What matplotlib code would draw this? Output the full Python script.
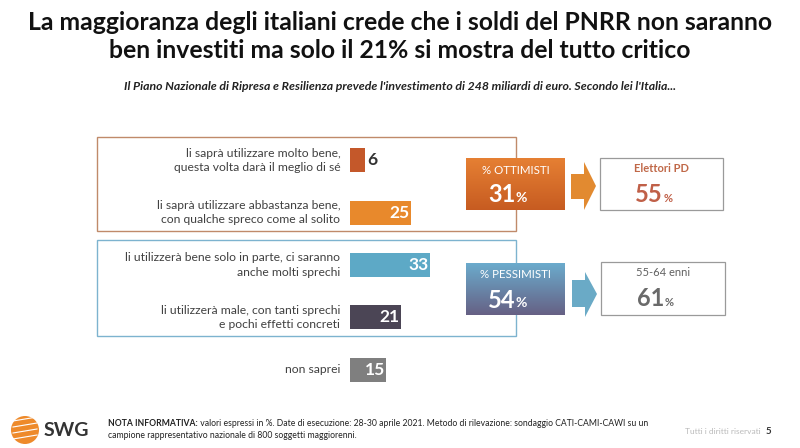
import numpy as np
import matplotlib
matplotlib.use("Agg")
import matplotlib.pyplot as plt
from matplotlib.patches import Rectangle, Polygon, Circle

labels = ["li saprà utilizzare molto bene,\nquesta volta darà il meglio di sé",
          "li saprà utilizzare abbastanza bene,\ncon qualche spreco come al solito",
          "li utilizzerà bene solo in parte, ci saranno\nanche molti sprechi",
          "li utilizzerà male, con tanti sprechi\ne pochi effetti concreti",
          "non saprei"]
values = [6, 25, 33, 21, 15]
colors = ["#C4582A", "#E8892C", "#5DA9C6", "#4B4555", "#7F7F7F"]

ottimisti = 31
pessimisti = 54
pd_label, pd_val = "Elettori PD", 55
age_label, age_val = "55-64 enni", 61

plt.rcParams['font.family'] = ['Lato', 'DejaVu Sans']

fig = plt.figure(figsize=(8, 4.48), dpi=100)

# background axes in pixel coordinates
bg = fig.add_axes([0, 0, 1, 1])
bg.set_xlim(0, 800)
bg.set_ylim(448, 0)
bg.axis("off")

bg.text(400, 22, "La maggioranza degli italiani crede che i soldi del PNRR non saranno",
        ha="center", va="center", fontsize=17.8, fontweight="bold", color="#111111")
bg.text(400, 50, "ben investiti ma solo il 21% si mostra del tutto critico",
        ha="center", va="center", fontsize=17.8, fontweight="bold", color="#111111")
bg.text(400, 87, "Il Piano Nazionale di Ripresa e Resilienza prevede l'investimento di 248 miliardi di euro. Secondo lei l'Italia...",
        ha="center", va="center", fontsize=8.8, fontstyle="italic", fontweight="bold", color="#222222")

# group boxes
bg.add_patch(Rectangle((97, 137), 419, 94, fill=False, ec="#C08A6A", lw=1.0))
bg.add_patch(Rectangle((97, 240), 419, 96, fill=False, ec="#7DB3CF", lw=1.0))

# gradient boxes
grad = np.linspace(0, 1, 50).reshape(-1, 1)
org = np.array([[0.90, 0.50, 0.20], [0.78, 0.36, 0.13]])
blu = np.array([[0.42, 0.67, 0.80], [0.40, 0.38, 0.52]])
img_o = org[0] + grad[..., None] * (org[1] - org[0])
img_b = blu[0] + grad[..., None] * (blu[1] - blu[0])
bg.imshow(img_o, extent=(466, 565, 210, 158), aspect="auto", zorder=2)
bg.imshow(img_b, extent=(466, 565, 315, 263), aspect="auto", zorder=2)
bg.set_xlim(0, 800)
bg.set_ylim(448, 0)

bg.text(515.5, 170, "% OTTIMISTI", ha="center", va="center", fontsize=8.3, color="white", zorder=3)
bg.text(515.5, 195, f"{ottimisti}", ha="right", va="center", fontsize=17, fontweight="bold", color="white", zorder=3)
bg.text(516, 198, "%", ha="left", va="center", fontsize=10, fontweight="bold", color="white", zorder=3)
bg.text(515.5, 275, "% PESSIMISTI", ha="center", va="center", fontsize=8.3, color="white", zorder=3)
bg.text(515.5, 300, f"{pessimisti}", ha="right", va="center", fontsize=17, fontweight="bold", color="white", zorder=3)
bg.text(516, 303, "%", ha="left", va="center", fontsize=10, fontweight="bold", color="white", zorder=3)

# arrows
bg.add_patch(Polygon([(571, 174), (584, 174), (584, 162), (596, 186), (584, 210), (584, 199), (571, 199)],
                     closed=True, fc="#E28A30", ec="none"))
bg.add_patch(Polygon([(572, 280), (585, 280), (585, 272), (597, 294), (585, 317), (585, 307), (572, 307)],
                     closed=True, fc="#6AAAC6", ec="none"))

# result boxes
bg.add_patch(Rectangle((600, 158), 123, 52, fill=False, ec="#9A9A9A", lw=0.9))
bg.add_patch(Rectangle((601, 262), 124, 53, fill=False, ec="#9A9A9A", lw=0.9))
bg.text(661.5, 169, pd_label, ha="center", va="center", fontsize=8, fontweight="bold", color="#C06848")
bg.text(663, 195, f"{pd_val}", ha="right", va="center", fontsize=17, fontweight="bold", color="#C06048")
bg.text(664, 198, "%", ha="left", va="center", fontsize=8, fontweight="bold", color="#C06048")
bg.text(663, 273, age_label, ha="center", va="center", fontsize=8, color="#606060")
bg.text(664, 299, f"{age_val}", ha="right", va="center", fontsize=17, fontweight="bold", color="#6A6A6A")
bg.text(665, 302, "%", ha="left", va="center", fontsize=8, fontweight="bold", color="#6A6A6A")

# footer
bg.add_patch(Circle((25, 430), 14, fc="#EE8A2A", ec="none"))
for yy in (421, 427, 433, 439):
    bg.plot([13, 37], [yy, yy - 4], color="white", lw=0.8)
bg.text(44, 431, "SWG", ha="left", va="center", fontsize=14, fontweight="bold", color="#333333")
t1 = bg.text(108, 423, "NOTA INFORMATIVA:", ha="left", va="center", fontsize=6.2, fontweight="bold", color="#222222")
bg.annotate(" valori espressi in %. Date di esecuzione: 28-30 aprile 2021. Metodo di rilevazione: sondaggio CATI-CAMI-CAWI su un",
            xy=(1, 0.5), xycoords=t1, ha="left", va="center", fontsize=6.2, color="#222222")
bg.text(108, 436, "campione rappresentativo nazionale di 800 soggetti maggiorenni.",
        ha="left", va="center", fontsize=6.2, color="#222222")
bg.text(685, 431, "Tutti i diritti riservati", ha="left", va="center", fontsize=6, color="#BBBBBB")
bg.text(766, 431, "5", ha="left", va="center", fontsize=7, fontweight="bold", color="#333333")

# bar axes
ax = fig.add_axes([350 / 800, 1 - 396 / 448, 100 / 800, 262 / 448])
ax.set_facecolor("none")
pos = np.arange(len(values))
ax.barh(pos, values, height=0.46, color=colors)
ax.set_xlim(0, 100 / 2.42)
ax.set_ylim(4.5, -0.5)
ax.axis("off")
for p, v, lab in zip(pos, values, labels):
    if v < 10:
        ax.text(v + 1.2, p, str(v), ha="left", va="center", fontsize=12.5, fontweight="bold", color="#333333")
    else:
        ax.text(v - 0.6, p, str(v), ha="right", va="center", fontsize=12.5, fontweight="bold", color="white")
    ax.text(-4, p, lab, ha="right", va="center", fontsize=8.7, color="#404040", linespacing=1.35)

fig.savefig("out.png", dpi=100)
